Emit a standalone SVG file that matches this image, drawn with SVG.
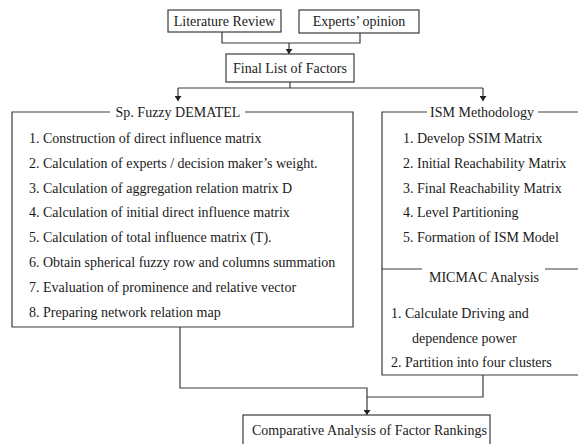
<svg xmlns="http://www.w3.org/2000/svg" width="578" height="444" viewBox="0 0 578 444">
<style>
.box{fill:#fff;stroke:#3a3a3a;stroke-width:1.2}
.ln{fill:none;stroke:#3a3a3a;stroke-width:1.2}
text{font-family:"Liberation Serif","Times New Roman",serif;font-size:14px;fill:#1a1a1a}
.c{text-anchor:middle}
</style>
<defs>
<marker id="ah" markerWidth="6" markerHeight="7" refX="5" refY="3.5" orient="auto" markerUnits="userSpaceOnUse">
<path d="M0,0 L5,3.5 L0,7 z" fill="#222"/>
</marker>
</defs>
<g id="connectors">
<path class="ln" d="M222,32 V43 H360 V33"/>
<path class="ln" d="M289,43 V54" marker-end="url(#ah)"/>
<path class="ln" d="M290,82 V88"/>
<path class="ln" d="M178,88 H483"/>
<path class="ln" d="M178,88 V101" marker-end="url(#ah)"/>
<path class="ln" d="M483,88 V101" marker-end="url(#ah)"/>
<path class="ln" d="M180,327 V388 H367 V415" marker-end="url(#ah)"/>
<path class="ln" d="M483,375 V397 H367"/>
</g>
<g id="literature">
<rect class="box" x="168" y="10" width="113" height="22"/>
<text class="c" x="224.5" y="26">Literature Review</text>
</g>
<g id="experts">
<rect class="box" x="299" y="10" width="120" height="23"/>
<text class="c" x="359" y="26">Experts’ opinion</text>
</g>
<g id="final">
<rect class="box" x="226" y="54" width="128" height="28"/>
<text class="c" x="290" y="73">Final List of Factors</text>
</g>
<g id="dematel">
<path class="ln" d="M110,112 H12 V327 H353 V112 H245"/>
<text class="c" x="178" y="117">Sp. Fuzzy DEMATEL</text>
<text x="29" y="143">1. Construction of direct influence matrix</text>
<text x="29" y="168">2. Calculation of experts / decision maker’s weight.</text>
<text x="29" y="193">3. Calculation of aggregation relation matrix D</text>
<text x="29" y="217">4. Calculation of initial direct influence matrix</text>
<text x="29" y="242">5. Calculation of total influence matrix (T).</text>
<text x="29" y="267">6. Obtain spherical fuzzy row and columns summation</text>
<text x="29" y="292">7. Evaluation of prominence and relative vector</text>
<text x="29" y="317">8. Preparing network relation map</text>
</g>
<g id="ism">
<path class="ln" d="M427,112 H382 V269"/>
<path class="ln" d="M538,112 H580"/>
<text class="c" x="482" y="117">ISM Methodology</text>
<text x="403" y="143">1. Develop SSIM Matrix</text>
<text x="403" y="168">2. Initial Reachability Matrix</text>
<text x="403" y="193">3. Final Reachability Matrix</text>
<text x="403" y="217">4. Level Partitioning</text>
<text x="403" y="242">5. Formation of ISM Model</text>
</g>
<g id="micmac">
<path class="ln" d="M422,269 H382 V375 H580"/>
<path class="ln" d="M545,269 H580"/>
<text class="c" x="484" y="282">MICMAC Analysis</text>
<text x="391" y="318">1. Calculate Driving and</text>
<text x="412" y="343">dependence power</text>
<text x="391" y="367">2. Partition into four clusters</text>
</g>
<g id="comparative">
<rect class="box" x="243" y="415" width="247" height="40"/>
<text x="252" y="435">Comparative Analysis of Factor Rankings</text>
</g>
</svg>
